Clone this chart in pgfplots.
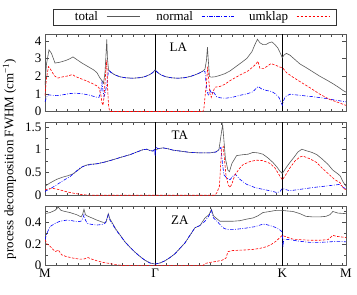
\documentclass[border=0pt]{standalone}
\usepackage{pgfplots}
\pgfplotsset{compat=1.18}
\usepackage{fontspec}
\setmainfont{Liberation Serif}

\tikzset{
  totline/.style={draw=black!65, line width=0.6pt},
  norline/.style={draw=blue, line width=0.6pt, dash pattern=on 3.5pt off 1.5pt on 0.8pt off 1.5pt},
  umkline/.style={draw=red, line width=0.6pt, dash pattern=on 2.5pt off 1.5pt},
}
\pgfplotsset{
  panel/.style={
    scale only axis, width=301pt,
    xmin=45, xmax=346.1, ymin=0,
    axis line style={black!65, line width=0.7pt},
    tick style={black!70, line width=0.5pt},
    tick align=inside,
    major tick length=4pt, minor tick length=2.5pt,
    xtick={45,155.2,282.4,346.1},
    minor xtick={45,56.02,...,346},
    yticklabel pos=left,
    /pgf/number format/assume math mode=true,
    clip=true,
  },
  tot/.style={color=black!65, totline},
  nor/.style={color=blue, norline},
  umk/.style={color=red, umkline},
  sep/.style={black, line width=1.2pt, forget plot},
}

\begin{document}
\begin{tikzpicture}[font=\fontsize{13}{15}\selectfont]
\useasboundingbox (0,0) rectangle (357pt,295pt);

% ---------------- legend ----------------
\draw[black!80, line width=0.6pt] (53.3pt,270pt) rectangle (336.7pt,285.7pt);
\node[anchor=base east, inner sep=0pt] at (98.3pt,274.3pt) {total};
\draw[totline] (106.7pt,278.2pt) -- (140pt,278.2pt);
\node[anchor=base east, inner sep=0pt] at (193.3pt,274.3pt) {normal};
\draw[norline] (201.7pt,278.2pt) -- (235pt,278.2pt);
\node[anchor=base east, inner sep=0pt] at (288.3pt,274.3pt) {umklap};
\draw[umkline] (296.7pt,278.2pt) -- (330pt,278.2pt);

% ---------------- LA ----------------
\begin{axis}[panel, at={(45pt,183.5pt)}, anchor=south west, height=77.5pt,
  ymax=4.4, ytick={0,1,2,3,4}, xticklabels={},
]
\addplot[sep] coordinates {(155.2,0) (155.2,4.4)};
\addplot[sep] coordinates {(282.4,0) (282.4,4.4)};
\addplot[tot] coordinates {(45,1.5)(46.5,2.7)(49,3.5)(51.5,3.3)(55,2.75)(60,2.8)(66,2.9)(70,3.0)(73,3.1)(76,2.98)(82,2.75)(88,2.55)(94,2.35)(97,2.2)(100,1.9)(102,1.75)(103.5,1.6)(105,2.2)(106,3.2)(106.8,4.1)(107.5,3.0)(108.5,2.4)(108.8,2.35)(111,2.22)(115,2.08)(120,1.97)(126,1.91)(133,1.89)(140,1.92)(145,1.98)(150,2.1)(153,2.22)(155.2,2.36)(157.5,2.22)(161,2.08)(166,1.97)(172,1.91)(178,1.89)(185,1.92)(191,2.0)(196,2.1)(200,2.2)(203,2.3)(205,2.4)(206.5,2.9)(207.5,3.65)(208.5,2.8)(209.5,2.0)(211,1.95)(215,1.97)(220,2.05)(225,2.15)(230,2.3)(236,2.55)(242,2.8)(247,3.02)(252,3.4)(255,3.8)(257.5,4.1)(260,3.9)(263,3.8)(266,3.8)(269,3.9)(272,3.95)(275,3.8)(278,3.6)(280.5,3.3)(282.4,3.05)(284,3.2)(286.5,3.3)(290,3.2)(295,2.95)(300,2.7)(306,2.5)(313,2.25)(320,2.0)(327,1.78)(333,1.58)(338,1.4)(343,1.2)(346,1.1)};
\addplot[nor] coordinates {(45,0.55)(46.5,0.8)(48.5,0.95)(52,0.92)(57,0.9)(63,0.95)(70,1.02)(76,1.04)(83,1.0)(90,0.92)(96,0.82)(99,0.8)(101,1.2)(102,1.65)(103,1.2)(104,0.85)(105,1.0)(106,1.3)(107,1.6)(108,2.1)(108.8,2.35)(111,2.22)(115,2.08)(120,1.97)(126,1.91)(133,1.89)(140,1.92)(145,1.98)(150,2.1)(153,2.22)(155.2,2.36)(157.5,2.22)(161,2.08)(166,1.97)(172,1.91)(178,1.89)(185,1.92)(191,2.0)(196,2.1)(200,2.2)(203,2.3)(205,2.28)(206,1.7)(207,1.2)(208.3,0.95)(210,1.22)(211.7,1.03)(213.3,1.13)(216.7,0.84)(220,0.78)(225,0.75)(232,0.8)(240,0.92)(247,1.0)(253,1.12)(256,1.3)(258.3,1.42)(261.7,1.28)(266,1.2)(272,1.13)(276,0.98)(279,0.8)(281,0.55)(282.4,0.35)(283.5,0.6)(285.5,0.85)(290,0.98)(300,0.92)(313,0.84)(325,0.75)(335,0.65)(346,0.55)};
\addplot[umk] coordinates {(45,0.9)(46.5,1.9)(48.5,2.55)(50,2.45)(52.5,2.2)(55,2.0)(58,1.9)(63,1.97)(68,2.02)(72.5,2.1)(75,2.0)(80,1.88)(86,1.75)(92,1.6)(97,1.45)(99,1.35)(101,0.9)(102,0.5)(103,0.35)(104,0.8)(105,1.6)(106,2.5)(106.8,2.9)(107.5,1.5)(108.5,0.4)(109.5,0.05)(110,0)(203,0)(204,0.2)(205,0.8)(206.5,1.6)(207.7,2.55)(208.5,2.0)(210,1.0)(211.3,0.8)(213,1.1)(215,1.38)(220,1.42)(225,1.55)(230,1.75)(240,2.07)(248,2.3)(253.3,2.55)(256,2.7)(258,2.85)(260,2.45)(264,2.45)(268,2.6)(271,2.72)(276,2.62)(280,2.52)(282.4,2.5)(286.7,2.2)(293,1.95)(300,1.7)(310,1.35)(320,0.98)(330,0.68)(337,0.54)(346,0.35)};
\node at (rel axis cs:0.443,0.826) {LA};
\end{axis}

% ---------------- TA ----------------
\begin{axis}[panel, at={(45pt,99.7pt)}, anchor=south west, height=73pt,
  ymax=1.6, ytick={0,0.5,1,1.5}, minor ytick={0.25,0.75,1.25}, xticklabels={},
]
\addplot[sep] coordinates {(155.2,0) (155.2,1.6)};
\addplot[sep] coordinates {(282.4,0) (282.4,1.6)};
\addplot[tot] coordinates {(45,0.2)(50,0.27)(56.7,0.35)(63,0.4)(68,0.43)(73,0.47)(78,0.55)(82,0.62)(86,0.66)(90,0.68)(96.7,0.69)(105,0.73)(113,0.78)(122,0.84)(130,0.89)(137,0.95)(143,1.0)(147,1.01)(150,0.98)(153,0.97)(155.2,0.98)(158,1.02)(163,1.04)(168,1.02)(173,0.99)(180,0.97)(190,0.94)(200,0.93)(210,0.93)(216,0.95)(219,1.0)(221,1.3)(222.7,1.55)(224,1.2)(225.5,0.8)(228,0.55)(229.5,0.52)(232,0.7)(236.7,0.87)(243,0.89)(248,0.9)(253,0.94)(258,0.93)(263,0.9)(268,0.82)(273,0.72)(277,0.62)(280,0.53)(282.4,0.48)(286,0.6)(290,0.72)(294,0.83)(298,0.95)(302,1.01)(306,0.98)(312,0.94)(317,0.89)(322,0.8)(328,0.68)(333,0.55)(338,0.47)(340.5,0.42)(343,0.3)(346,0.2)};
\addplot[nor] coordinates {(45,0.08)(46,0.1)(50,0.14)(56.7,0.23)(63,0.32)(70,0.41)(75,0.5)(80,0.6)(85,0.65)(90,0.67)(96.7,0.69)(105,0.73)(113,0.78)(122,0.84)(130,0.89)(137,0.95)(143,1.0)(147,1.01)(150,0.98)(153,0.97)(154.6,1.02)(155.2,0.86)(155.8,1.06)(158,1.02)(163,1.04)(168,1.02)(173,0.99)(180,0.97)(190,0.94)(200,0.93)(210,0.93)(216,0.95)(219,1.0)(221,1.05)(222.5,0.7)(224,0.45)(226.7,0.38)(230,0.34)(233,0.42)(235.5,0.46)(240,0.35)(246.7,0.24)(255,0.17)(263,0.13)(270,0.1)(277,0.06)(280,0.08)(282.4,0.15)(285,0.13)(290,0.1)(300,0.13)(313,0.17)(325,0.2)(336.7,0.23)(340,0.24)(343,0.18)(346,0.14)};
\addplot[umk] coordinates {(45,0.12)(48,0.14)(53,0.15)(58,0.13)(63,0.1)(68,0.07)(75,0.04)(82,0.015)(90,0.003)(100,0)(215,0)(217,0.06)(219.5,0.2)(220.5,0.6)(221.7,1.0)(223.3,1.07)(224.5,0.8)(226,0.45)(228.3,0.23)(230,0.17)(232,0.25)(235,0.45)(240,0.6)(243,0.67)(250,0.74)(256.7,0.77)(263,0.76)(270,0.7)(275,0.6)(280,0.42)(282.4,0.34)(285,0.42)(290,0.6)(295,0.75)(300,0.84)(303,0.86)(310,0.8)(316.7,0.72)(322,0.6)(328,0.48)(335,0.34)(340,0.28)(343.3,0.16)(346,0.12)};
\node at (rel axis cs:0.448,0.82) {TA};
\end{axis}

% ---------------- ZA ----------------
\begin{axis}[panel, at={(45pt,29.3pt)}, anchor=south west, height=59pt,
  ymax=0.544, ytick={0,0.2,0.4}, minor ytick={0.1,0.3,0.5},
  xticklabels={M,Γ,K,M},
]
\addplot[sep] coordinates {(155.2,0) (155.2,0.544)};
\addplot[sep] coordinates {(282.4,0) (282.4,0.544)};
\addplot[tot] coordinates {(45,0.48)(50,0.49)(55,0.51)(58.3,0.54)(61,0.51)(65,0.5)(70,0.49)(76.7,0.47)(81,0.45)(82.5,0.47)(84,0.52)(85.5,0.47)(87,0.46)(92,0.44)(97,0.42)(103,0.4)(106,0.4)(108.3,0.48)(110,0.43)(112,0.4)(116,0.335)(120,0.285)(125,0.22)(130,0.17)(135,0.125)(140,0.085)(145,0.05)(150,0.025)(155.2,0.015)(160,0.025)(165,0.045)(170,0.075)(175,0.11)(180,0.16)(185,0.21)(190,0.28)(195,0.35)(200,0.37)(205,0.44)(209,0.47)(211.5,0.52)(213.5,0.46)(216,0.44)(220,0.41)(226,0.41)(233,0.41)(240,0.415)(247,0.43)(253,0.44)(258,0.46)(263,0.49)(270,0.5)(276,0.51)(282.4,0.51)(287,0.505)(293,0.5)(300,0.48)(306,0.455)(313,0.45)(320,0.45)(326,0.455)(330,0.47)(333,0.5)(338,0.485)(346,0.48)};
\addplot[nor] coordinates {(45,0.24)(47,0.3)(50,0.36)(55,0.39)(60,0.41)(66.7,0.42)(72,0.415)(77,0.405)(81,0.41)(83,0.44)(84,0.47)(85.5,0.42)(87.3,0.39)(92,0.38)(97,0.375)(102,0.38)(105,0.39)(107,0.43)(108.3,0.47)(110,0.42)(112,0.39)(116,0.33)(120,0.28)(125,0.22)(130,0.17)(135,0.125)(140,0.085)(145,0.05)(150,0.025)(155.2,0.015)(160,0.025)(165,0.045)(170,0.075)(175,0.11)(180,0.16)(185,0.21)(190,0.28)(195,0.35)(200,0.37)(205,0.41)(209,0.46)(211.5,0.51)(213.5,0.44)(216,0.42)(220,0.38)(224,0.345)(227,0.335)(235,0.335)(245,0.345)(255,0.36)(262,0.38)(265,0.383)(270,0.37)(275,0.355)(280,0.33)(282.4,0.31)(283,0.17)(283.8,0.245)(290,0.24)(300,0.225)(310,0.215)(320,0.215)(330,0.22)(338,0.225)(346,0.22)};
\addplot[umk] coordinates {(45,0.24)(47,0.2)(50,0.18)(53,0.15)(55.5,0.13)(58.3,0.145)(61.7,0.1)(66,0.085)(73,0.07)(80,0.06)(83.3,0.06)(88,0.075)(92,0.06)(97,0.045)(103,0.03)(110,0.02)(115,0.01)(120,0.005)(125,0)(203,0)(205,0.02)(210,0.03)(216.7,0.04)(222,0.05)(226,0.07)(228,0.13)(233,0.14)(245,0.145)(253,0.15)(260,0.16)(266.7,0.175)(272,0.2)(276.7,0.23)(280,0.26)(282.4,0.28)(283.5,0.275)(288,0.26)(293,0.245)(300,0.24)(310,0.235)(320,0.235)(328,0.24)(333,0.28)(337,0.27)(346,0.26)};
\node at (rel axis cs:0.448,0.775) {ZA};
\end{axis}

\node[rotate=90] at (9.5pt,136pt) {process decomposition FWHM (cm\textsuperscript{−1})};
\end{tikzpicture}
\end{document}
